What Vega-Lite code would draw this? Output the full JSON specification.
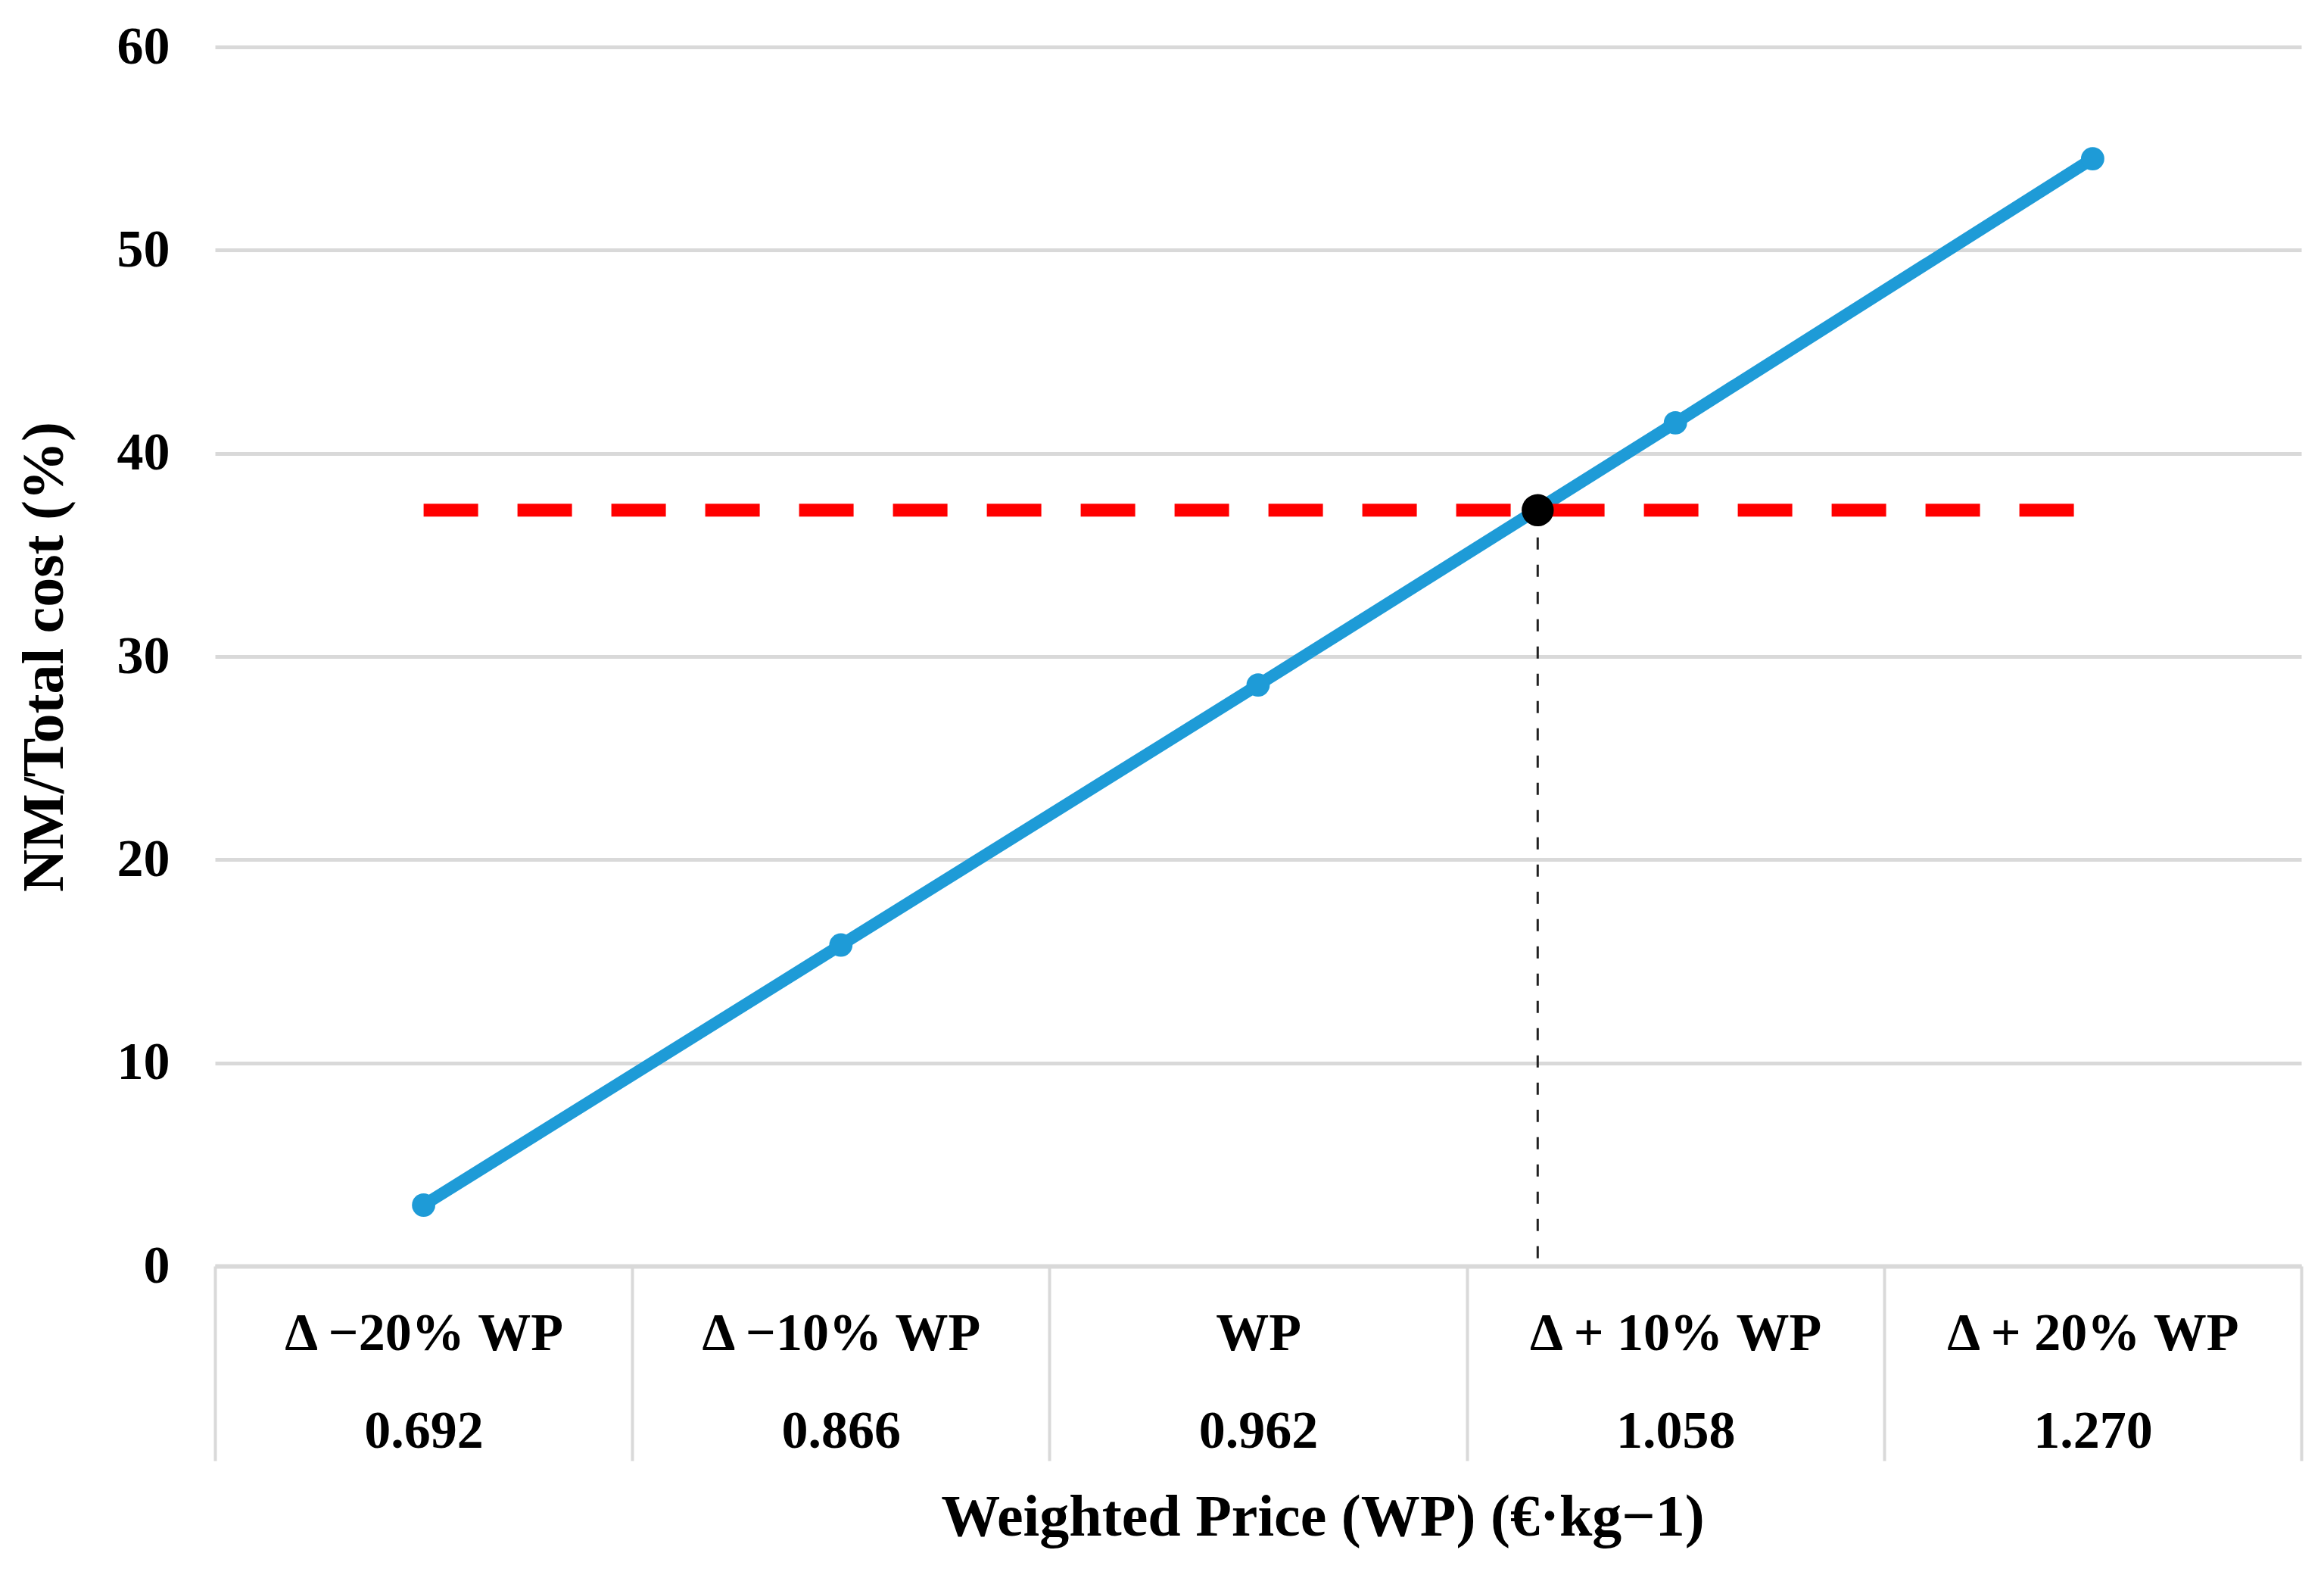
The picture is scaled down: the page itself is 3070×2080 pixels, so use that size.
{
  "$schema": "https://vega.github.io/schema/vega-lite/v6.json",
  "description": "NM/Total cost vs weighted price",
  "width": 2756,
  "height": 1610,
  "autosize": {"type": "none"},
  "padding": {"left": 284, "top": 62, "right": 30, "bottom": 408},
  "background": "white",
  "config": {
    "font": "Liberation Serif",
    "view": {"stroke": null}
  },
  "datasets": {
    "main": [
      {"cat": "Δ −20% WP|0.692", "nm": 3.0},
      {"cat": "Δ −10% WP|0.866", "nm": 15.8},
      {"cat": "WP|0.962", "nm": 28.6},
      {"cat": "Δ + 10% WP|1.058", "nm": 41.5},
      {"cat": "Δ + 20% WP|1.270", "nm": 54.5}
    ],
    "target": [
      {"x0": 0, "x1": 4, "pos": 2.67, "nm": 37.2, "base": 0}
    ]
  },
  "layer": [
    {
      "data": {"name": "main"},
      "encoding": {
        "x": {
          "field": "cat",
          "type": "nominal",
          "sort": null,
          "scale": {"type": "band", "paddingInner": 0, "paddingOuter": 0},
          "axis": {
            "title": "Weighted Price (WP) (€·kg−1)",
            "grid": false,
            "domainColor": "#d9d9d9",
            "domainWidth": 6,
            "ticks": true,
            "tickColor": "#d9d9d9",
            "tickWidth": 4,
            "tickSize": 257,
            "tickBand": "extent",
            "labelExpr": "split(datum.label, '|')",
            "labelFontSize": 70,
            "labelFontWeight": "bold",
            "labelColor": "black",
            "labelLineHeight": 129,
            "labelBaseline": "alphabetic",
            "labelPadding": -147,
            "labelAngle": 0,
            "labelOverlap": false,
            "labelLimit": 1000,
            "titleFontSize": 78,
            "titleFontWeight": "bold",
            "titleColor": "black",
            "titleX": 1463,
            "titleY": 355,
            "titleBaseline": "alphabetic"
          }
        },
        "y": {
          "field": "nm",
          "type": "quantitative",
          "scale": {"domain": [0, 60], "nice": false},
          "axis": {
            "title": "NM/Total cost (%)",
            "values": [0, 10, 20, 30, 40, 50, 60],
            "grid": true,
            "gridColor": "#d9d9d9",
            "gridWidth": 5,
            "domain": false,
            "ticks": false,
            "labelFontSize": 70,
            "labelFontWeight": "bold",
            "labelColor": "black",
            "labelPadding": 60,
            "titleFontSize": 78,
            "titleFontWeight": "bold",
            "titleColor": "black",
            "titleX": -225,
            "titleY": 805,
            "titleBaseline": "middle"
          }
        }
      },
      "layer": [
        {"mark": {"type": "line", "color": "#1e9bd7", "strokeWidth": 16}},
        {"mark": {"type": "point", "filled": true, "color": "#1e9bd7", "size": 950, "opacity": 1}}
      ]
    },
    {
      "data": {"name": "target"},
      "layer": [
        {
          "mark": {"type": "rule", "color": "#ff0000", "strokeWidth": 17, "strokeDash": [72, 52]},
          "encoding": {
            "x": {"field": "x0", "type": "quantitative", "scale": {"domain": [-0.5, 4.5], "nice": false, "zero": false}, "axis": null},
            "x2": {"field": "x1"},
            "y": {"field": "nm", "type": "quantitative"}
          }
        },
        {
          "mark": {"type": "rule", "color": "#222222", "strokeWidth": 3, "strokeDash": [16, 20]},
          "encoding": {
            "x": {"field": "pos", "type": "quantitative", "scale": {"domain": [-0.5, 4.5], "nice": false, "zero": false}, "axis": null},
            "y": {"field": "nm", "type": "quantitative"},
            "y2": {"field": "base"}
          }
        },
        {
          "mark": {"type": "point", "filled": true, "color": "black", "size": 1800, "opacity": 1},
          "encoding": {
            "x": {"field": "pos", "type": "quantitative", "scale": {"domain": [-0.5, 4.5], "nice": false, "zero": false}, "axis": null},
            "y": {"field": "nm", "type": "quantitative"}
          }
        }
      ]
    }
  ],
  "resolve": {"scale": {"x": "independent"}}
}
